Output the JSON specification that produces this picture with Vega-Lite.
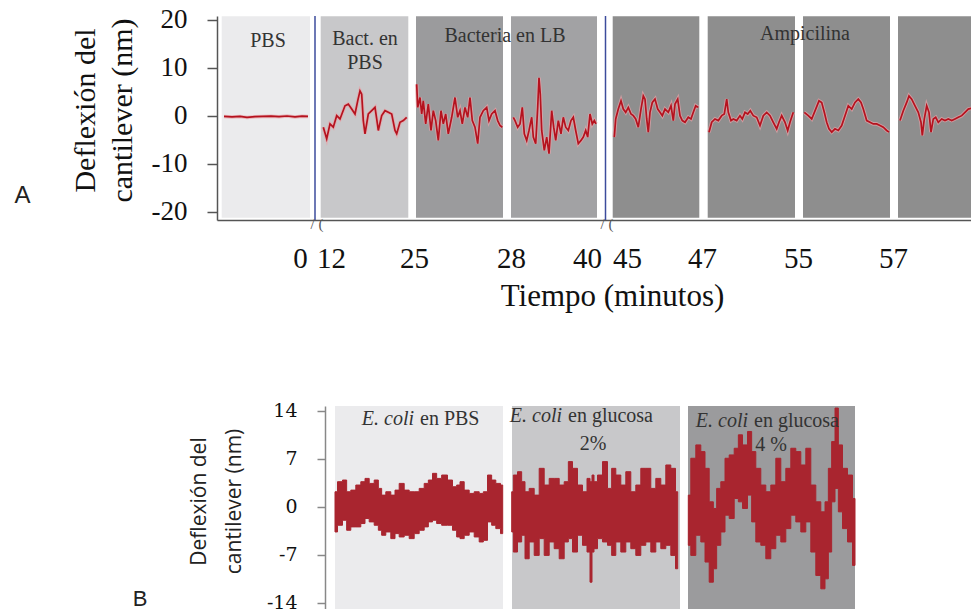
{
  "$schema": "https://vega.github.io/schema/vega-lite/v6.json",
  "padding": {"left": 14, "top": 5, "right": 0, "bottom": 0},
  "background": "white",
  "spacing": 90,
  "config": {"view": {"stroke": null}},
  "datasets": {
    "cajasA": [
      {"inicio": 0.47, "fin": 9.3, "fase": "PBS"},
      {"inicio": 10.37, "fin": 19.13, "fase": "Bact. en PBS"},
      {"inicio": 19.9, "fin": 28.6, "fase": "Bacteria en LB"},
      {"inicio": 29.4, "fin": 38.0, "fase": "Bacteria en LB 2"},
      {"inicio": 39.57, "fin": 48.23, "fase": "Ampicilina"},
      {"inicio": 49.07, "fin": 57.8, "fase": "Ampicilina"},
      {"inicio": 58.6, "fin": 67.3, "fase": "Ampicilina"},
      {"inicio": 68.1, "fin": 77, "fase": "Ampicilina"}
    ],
    "cortes": [{"inicio": 9.8}, {"inicio": 38.85}],
    "quiebres": [{"inicio": 10.0, "texto": "/ ("}, {"inicio": 39.0, "texto": "/ ("}],
    "trazaA": [
      {"seg": "s0", "inicio": 0.7, "v": -0.1}, {"seg": "s0", "inicio": 1.5, "v": -0.2}, {"seg": "s0", "inicio": 2.3, "v": -0.1}, {"seg": "s0", "inicio": 3.0, "v": -0.3}, {"seg": "s0", "inicio": 3.8, "v": -0.15}, {"seg": "s0", "inicio": 4.6, "v": -0.1}, {"seg": "s0", "inicio": 5.4, "v": -0.05}, {"seg": "s0", "inicio": 6.2, "v": -0.15}, {"seg": "s0", "inicio": 7.0, "v": 0}, {"seg": "s0", "inicio": 7.8, "v": -0.2}, {"seg": "s0", "inicio": 8.5, "v": -0.05}, {"seg": "s0", "inicio": 9.1, "v": -0.1},
      {"seg": "s1", "inicio": 10.63, "v": -2.34}, {"seg": "s1", "inicio": 10.97, "v": -4.74}, {"seg": "s1", "inicio": 11.3, "v": -1.65}, {"seg": "s1", "inicio": 11.63, "v": -2.34}, {"seg": "s1", "inicio": 11.97, "v": 0.07}, {"seg": "s1", "inicio": 12.3, "v": -0.62}, {"seg": "s1", "inicio": 12.8, "v": 2.13}, {"seg": "s1", "inicio": 13.13, "v": 2.47}, {"seg": "s1", "inicio": 13.47, "v": 1.44}, {"seg": "s1", "inicio": 13.8, "v": 0.41}, {"seg": "s1", "inicio": 14.07, "v": 3.16}, {"seg": "s1", "inicio": 14.3, "v": 5.22}, {"seg": "s1", "inicio": 14.47, "v": 4.54}, {"seg": "s1", "inicio": 14.63, "v": -0.96}, {"seg": "s1", "inicio": 14.8, "v": -3.71}, {"seg": "s1", "inicio": 15.13, "v": 0.41}, {"seg": "s1", "inicio": 15.47, "v": 1.1}, {"seg": "s1", "inicio": 15.8, "v": 1.79}, {"seg": "s1", "inicio": 15.97, "v": -0.62}, {"seg": "s1", "inicio": 16.13, "v": -3.02}, {"seg": "s1", "inicio": 16.47, "v": 0.07}, {"seg": "s1", "inicio": 16.8, "v": 1.1}, {"seg": "s1", "inicio": 17.13, "v": 0.76}, {"seg": "s1", "inicio": 17.47, "v": 0.41}, {"seg": "s1", "inicio": 17.8, "v": -3.02}, {"seg": "s1", "inicio": 17.97, "v": -3.71}, {"seg": "s1", "inicio": 18.3, "v": -1.31}, {"seg": "s1", "inicio": 18.63, "v": -0.96}, {"seg": "s1", "inicio": 18.97, "v": -0.27},
      {"seg": "s2", "inicio": 19.97, "v": 6.6}, {"seg": "s2", "inicio": 20.07, "v": 1.79}, {"seg": "s2", "inicio": 20.3, "v": 3.85}, {"seg": "s2", "inicio": 20.47, "v": 0.41}, {"seg": "s2", "inicio": 20.63, "v": 3.16}, {"seg": "s2", "inicio": 20.87, "v": -1.65}, {"seg": "s2", "inicio": 21.13, "v": 2.47}, {"seg": "s2", "inicio": 21.4, "v": -3.02}, {"seg": "s2", "inicio": 21.63, "v": 1.1}, {"seg": "s2", "inicio": 21.87, "v": -0.96}, {"seg": "s2", "inicio": 22.13, "v": -5.09}, {"seg": "s2", "inicio": 22.4, "v": 1.1}, {"seg": "s2", "inicio": 22.63, "v": -1.65}, {"seg": "s2", "inicio": 22.87, "v": 0.41}, {"seg": "s2", "inicio": 23.13, "v": -3.71}, {"seg": "s2", "inicio": 23.47, "v": -0.27}, {"seg": "s2", "inicio": 23.8, "v": 3.85}, {"seg": "s2", "inicio": 24.07, "v": -0.27}, {"seg": "s2", "inicio": 24.3, "v": 1.1}, {"seg": "s2", "inicio": 24.53, "v": -1.65}, {"seg": "s2", "inicio": 24.8, "v": 1.79}, {"seg": "s2", "inicio": 25.07, "v": -0.27}, {"seg": "s2", "inicio": 25.3, "v": 3.85}, {"seg": "s2", "inicio": 25.53, "v": -0.96}, {"seg": "s2", "inicio": 25.8, "v": -2.34}, {"seg": "s2", "inicio": 26.07, "v": -5.77}, {"seg": "s2", "inicio": 26.3, "v": -0.27}, {"seg": "s2", "inicio": 26.63, "v": 1.1}, {"seg": "s2", "inicio": 26.97, "v": 1.79}, {"seg": "s2", "inicio": 27.2, "v": -0.96}, {"seg": "s2", "inicio": 27.47, "v": 0.41}, {"seg": "s2", "inicio": 27.8, "v": 1.1}, {"seg": "s2", "inicio": 28.07, "v": -0.96}, {"seg": "s2", "inicio": 28.3, "v": -1.99}, {"seg": "s2", "inicio": 28.53, "v": -2.34},
      {"seg": "s3", "inicio": 29.63, "v": -0.27}, {"seg": "s3", "inicio": 29.8, "v": -0.96}, {"seg": "s3", "inicio": 30.07, "v": -2.34}, {"seg": "s3", "inicio": 30.3, "v": -1.65}, {"seg": "s3", "inicio": 30.53, "v": 1.79}, {"seg": "s3", "inicio": 30.73, "v": -3.71}, {"seg": "s3", "inicio": 30.97, "v": -5.09}, {"seg": "s3", "inicio": 31.2, "v": -3.02}, {"seg": "s3", "inicio": 31.47, "v": -0.27}, {"seg": "s3", "inicio": 31.63, "v": -4.4}, {"seg": "s3", "inicio": 31.87, "v": -5.77}, {"seg": "s3", "inicio": 32.07, "v": 1.79}, {"seg": "s3", "inicio": 32.2, "v": 7.97}, {"seg": "s3", "inicio": 32.33, "v": 4.54}, {"seg": "s3", "inicio": 32.47, "v": -3.02}, {"seg": "s3", "inicio": 32.73, "v": -7.15}, {"seg": "s3", "inicio": 32.97, "v": -4.4}, {"seg": "s3", "inicio": 33.2, "v": -7.84}, {"seg": "s3", "inicio": 33.47, "v": 1.1}, {"seg": "s3", "inicio": 33.67, "v": -2.34}, {"seg": "s3", "inicio": 33.87, "v": -5.09}, {"seg": "s3", "inicio": 34.13, "v": -0.96}, {"seg": "s3", "inicio": 34.4, "v": -3.71}, {"seg": "s3", "inicio": 34.63, "v": -0.27}, {"seg": "s3", "inicio": 34.87, "v": -2.34}, {"seg": "s3", "inicio": 35.13, "v": -3.02}, {"seg": "s3", "inicio": 35.4, "v": -0.96}, {"seg": "s3", "inicio": 35.63, "v": -0.27}, {"seg": "s3", "inicio": 35.87, "v": -3.02}, {"seg": "s3", "inicio": 36.13, "v": -5.77}, {"seg": "s3", "inicio": 36.4, "v": -5.09}, {"seg": "s3", "inicio": 36.63, "v": -4.4}, {"seg": "s3", "inicio": 36.87, "v": -3.02}, {"seg": "s3", "inicio": 37.07, "v": -4.4}, {"seg": "s3", "inicio": 37.3, "v": 0.41}, {"seg": "s3", "inicio": 37.53, "v": -1.65}, {"seg": "s3", "inicio": 37.73, "v": -0.96}, {"seg": "s3", "inicio": 37.9, "v": -1.65},
      {"seg": "s4", "inicio": 39.73, "v": -4.4}, {"seg": "s4", "inicio": 39.87, "v": -0.62}, {"seg": "s4", "inicio": 40.13, "v": 1.44}, {"seg": "s4", "inicio": 40.4, "v": 3.16}, {"seg": "s4", "inicio": 40.63, "v": 1.44}, {"seg": "s4", "inicio": 40.87, "v": 0.76}, {"seg": "s4", "inicio": 41.13, "v": 1.79}, {"seg": "s4", "inicio": 41.4, "v": 0.41}, {"seg": "s4", "inicio": 41.63, "v": 0.07}, {"seg": "s4", "inicio": 41.87, "v": -0.62}, {"seg": "s4", "inicio": 42.13, "v": -2.34}, {"seg": "s4", "inicio": 42.4, "v": 1.44}, {"seg": "s4", "inicio": 42.63, "v": 4.19}, {"seg": "s4", "inicio": 42.8, "v": 3.51}, {"seg": "s4", "inicio": 42.97, "v": -0.62}, {"seg": "s4", "inicio": 43.13, "v": -3.37}, {"seg": "s4", "inicio": 43.3, "v": 0.76}, {"seg": "s4", "inicio": 43.53, "v": 2.82}, {"seg": "s4", "inicio": 43.8, "v": 3.51}, {"seg": "s4", "inicio": 44.07, "v": 1.44}, {"seg": "s4", "inicio": 44.3, "v": 0.76}, {"seg": "s4", "inicio": 44.53, "v": 0.07}, {"seg": "s4", "inicio": 44.8, "v": 1.44}, {"seg": "s4", "inicio": 45.13, "v": 0.76}, {"seg": "s4", "inicio": 45.4, "v": 2.13}, {"seg": "s4", "inicio": 45.63, "v": -0.96}, {"seg": "s4", "inicio": 45.8, "v": 2.47}, {"seg": "s4", "inicio": 46.07, "v": 3.51}, {"seg": "s4", "inicio": 46.3, "v": 0.07}, {"seg": "s4", "inicio": 46.53, "v": -0.96}, {"seg": "s4", "inicio": 46.8, "v": -1.31}, {"seg": "s4", "inicio": 47.13, "v": -0.27}, {"seg": "s4", "inicio": 47.4, "v": -0.62}, {"seg": "s4", "inicio": 47.63, "v": 0.76}, {"seg": "s4", "inicio": 47.87, "v": 2.13}, {"seg": "s4", "inicio": 48.13, "v": 1.79},
      {"seg": "s5", "inicio": 49.2, "v": -3.37}, {"seg": "s5", "inicio": 49.47, "v": -1.31}, {"seg": "s5", "inicio": 49.8, "v": -0.62}, {"seg": "s5", "inicio": 50.13, "v": -0.96}, {"seg": "s5", "inicio": 50.47, "v": 0.07}, {"seg": "s5", "inicio": 50.73, "v": 0.41}, {"seg": "s5", "inicio": 50.97, "v": 3.51}, {"seg": "s5", "inicio": 51.13, "v": 0.76}, {"seg": "s5", "inicio": 51.4, "v": -0.96}, {"seg": "s5", "inicio": 51.63, "v": -0.62}, {"seg": "s5", "inicio": 51.97, "v": -0.96}, {"seg": "s5", "inicio": 52.3, "v": 0.07}, {"seg": "s5", "inicio": 52.53, "v": -0.62}, {"seg": "s5", "inicio": 52.8, "v": 0.76}, {"seg": "s5", "inicio": 53.07, "v": 0.41}, {"seg": "s5", "inicio": 53.33, "v": 1.1}, {"seg": "s5", "inicio": 53.63, "v": 0.07}, {"seg": "s5", "inicio": 53.97, "v": -0.27}, {"seg": "s5", "inicio": 54.3, "v": -1.99}, {"seg": "s5", "inicio": 54.63, "v": 0.07}, {"seg": "s5", "inicio": 54.97, "v": 0.76}, {"seg": "s5", "inicio": 55.3, "v": 0.07}, {"seg": "s5", "inicio": 55.63, "v": -1.31}, {"seg": "s5", "inicio": 55.97, "v": -2.68}, {"seg": "s5", "inicio": 56.2, "v": -1.31}, {"seg": "s5", "inicio": 56.47, "v": 0.07}, {"seg": "s5", "inicio": 56.8, "v": -1.31}, {"seg": "s5", "inicio": 57.07, "v": -3.02}, {"seg": "s5", "inicio": 57.3, "v": -1.31}, {"seg": "s5", "inicio": 57.63, "v": 0.76},
      {"seg": "s6", "inicio": 58.73, "v": 0.76}, {"seg": "s6", "inicio": 59.13, "v": 0.07}, {"seg": "s6", "inicio": 59.47, "v": -0.62}, {"seg": "s6", "inicio": 59.87, "v": 1.44}, {"seg": "s6", "inicio": 60.2, "v": 3.16}, {"seg": "s6", "inicio": 60.47, "v": 2.82}, {"seg": "s6", "inicio": 60.73, "v": 0.76}, {"seg": "s6", "inicio": 60.97, "v": -1.31}, {"seg": "s6", "inicio": 61.2, "v": -2.68}, {"seg": "s6", "inicio": 61.47, "v": -3.37}, {"seg": "s6", "inicio": 61.8, "v": -2.68}, {"seg": "s6", "inicio": 62.13, "v": -3.02}, {"seg": "s6", "inicio": 62.47, "v": -1.99}, {"seg": "s6", "inicio": 62.8, "v": 0.07}, {"seg": "s6", "inicio": 63.13, "v": 2.13}, {"seg": "s6", "inicio": 63.47, "v": 1.44}, {"seg": "s6", "inicio": 63.8, "v": 2.82}, {"seg": "s6", "inicio": 64.13, "v": 3.51}, {"seg": "s6", "inicio": 64.4, "v": 2.82}, {"seg": "s6", "inicio": 64.63, "v": 1.44}, {"seg": "s6", "inicio": 64.97, "v": -0.96}, {"seg": "s6", "inicio": 65.3, "v": -1.31}, {"seg": "s6", "inicio": 65.63, "v": -1.65}, {"seg": "s6", "inicio": 65.97, "v": -1.65}, {"seg": "s6", "inicio": 66.3, "v": -1.99}, {"seg": "s6", "inicio": 66.63, "v": -2.34}, {"seg": "s6", "inicio": 66.97, "v": -3.02}, {"seg": "s6", "inicio": 67.2, "v": -3.37},
      {"seg": "s7", "inicio": 68.3, "v": -0.96}, {"seg": "s7", "inicio": 68.63, "v": 1.1}, {"seg": "s7", "inicio": 68.97, "v": 2.82}, {"seg": "s7", "inicio": 69.2, "v": 4.19}, {"seg": "s7", "inicio": 69.47, "v": 3.51}, {"seg": "s7", "inicio": 69.8, "v": 2.13}, {"seg": "s7", "inicio": 70.13, "v": 0.76}, {"seg": "s7", "inicio": 70.4, "v": -1.31}, {"seg": "s7", "inicio": 70.53, "v": -4.05}, {"seg": "s7", "inicio": 70.73, "v": -0.62}, {"seg": "s7", "inicio": 70.97, "v": 2.13}, {"seg": "s7", "inicio": 71.2, "v": 0.76}, {"seg": "s7", "inicio": 71.4, "v": -3.37}, {"seg": "s7", "inicio": 71.63, "v": -0.62}, {"seg": "s7", "inicio": 71.87, "v": -0.27}, {"seg": "s7", "inicio": 72.13, "v": -1.31}, {"seg": "s7", "inicio": 72.47, "v": -0.62}, {"seg": "s7", "inicio": 72.8, "v": -0.96}, {"seg": "s7", "inicio": 73.13, "v": -0.62}, {"seg": "s7", "inicio": 73.47, "v": -0.96}, {"seg": "s7", "inicio": 73.8, "v": -0.62}, {"seg": "s7", "inicio": 74.13, "v": -0.27}, {"seg": "s7", "inicio": 74.47, "v": 0.07}, {"seg": "s7", "inicio": 74.8, "v": 0.76}, {"seg": "s7", "inicio": 75.13, "v": 1.44}, {"seg": "s7", "inicio": 75.4, "v": 1.58}, {"seg": "s7", "inicio": 76.0, "v": 1.8}
    ],
    "textosA": [
      {"inicio": 5.1, "v": 15.6, "texto": "PBS"},
      {"inicio": 14.8, "v": 16.0, "texto": "Bact. en"},
      {"inicio": 14.8, "v": 11.0, "texto": "PBS"},
      {"inicio": 28.8, "v": 16.6, "texto": "Bacteria en LB"},
      {"inicio": 58.8, "v": 17.0, "texto": "Ampicilina"}
    ],
    "letraA": [{"inicio": -19.45, "v": -16.6, "texto": "A"}],
    "cajasB": [
      {"inicio": 11.8, "fin": 28.6, "fase": "E. coli en PBS"},
      {"inicio": 29.5, "fin": 46.3, "fase": "E. coli en glucosa 2%"},
      {"inicio": 47.1, "fin": 63.8, "fase": "E. coli en glucosa 4 %"}
    ],
    "bandaB": [
      {"seg": "b1", "inicio": 11.8, "sup": 2.2, "inf": -3.67}, {"seg": "b1", "inicio": 12.3, "sup": 3.67, "inf": -2.69}, {"seg": "b1", "inicio": 12.8, "sup": 3.91, "inf": -1.96}, {"seg": "b1", "inicio": 13.13, "sup": 2.2, "inf": -3.42}, {"seg": "b1", "inicio": 13.63, "sup": 2.44, "inf": -2.93}, {"seg": "b1", "inicio": 14.13, "sup": 3.18, "inf": -2.93}, {"seg": "b1", "inicio": 14.63, "sup": 3.67, "inf": -2.44}, {"seg": "b1", "inicio": 14.97, "sup": 4.15, "inf": -1.71}, {"seg": "b1", "inicio": 15.47, "sup": 3.42, "inf": -2.2}, {"seg": "b1", "inicio": 15.97, "sup": 3.91, "inf": -2.69}, {"seg": "b1", "inicio": 16.3, "sup": 2.69, "inf": -3.42}, {"seg": "b1", "inicio": 16.63, "sup": 1.71, "inf": -4.15}, {"seg": "b1", "inicio": 17.13, "sup": 2.2, "inf": -3.67}, {"seg": "b1", "inicio": 17.63, "sup": 1.71, "inf": -4.64}, {"seg": "b1", "inicio": 17.97, "sup": 2.44, "inf": -3.91}, {"seg": "b1", "inicio": 18.47, "sup": 3.42, "inf": -4.4}, {"seg": "b1", "inicio": 18.97, "sup": 2.44, "inf": -4.15}, {"seg": "b1", "inicio": 19.47, "sup": 2.2, "inf": -4.64}, {"seg": "b1", "inicio": 19.97, "sup": 2.2, "inf": -3.91}, {"seg": "b1", "inicio": 20.47, "sup": 2.69, "inf": -3.42}, {"seg": "b1", "inicio": 20.97, "sup": 3.42, "inf": -2.93}, {"seg": "b1", "inicio": 21.3, "sup": 3.91, "inf": -2.2}, {"seg": "b1", "inicio": 21.8, "sup": 4.89, "inf": -1.96}, {"seg": "b1", "inicio": 22.13, "sup": 4.15, "inf": -2.44}, {"seg": "b1", "inicio": 22.8, "sup": 4.64, "inf": -2.69}, {"seg": "b1", "inicio": 23.3, "sup": 3.91, "inf": -2.69}, {"seg": "b1", "inicio": 23.8, "sup": 2.93, "inf": -3.42}, {"seg": "b1", "inicio": 24.13, "sup": 3.18, "inf": -4.4}, {"seg": "b1", "inicio": 24.47, "sup": 3.67, "inf": -4.64}, {"seg": "b1", "inicio": 24.97, "sup": 2.44, "inf": -4.15}, {"seg": "b1", "inicio": 25.47, "sup": 1.96, "inf": -3.67}, {"seg": "b1", "inicio": 25.97, "sup": 2.2, "inf": -4.4}, {"seg": "b1", "inicio": 26.47, "sup": 1.96, "inf": -5.13}, {"seg": "b1", "inicio": 26.8, "sup": 2.2, "inf": -4.89}, {"seg": "b1", "inicio": 27.3, "sup": 4.64, "inf": -2.2}, {"seg": "b1", "inicio": 27.63, "sup": 3.91, "inf": -2.69}, {"seg": "b1", "inicio": 28.13, "sup": 3.42, "inf": -3.18}, {"seg": "b1", "inicio": 28.57, "sup": 3.18, "inf": -3.91},
      {"seg": "b2", "inicio": 29.47, "sup": 2.2, "inf": -3.67}, {"seg": "b2", "inicio": 29.8, "sup": 4.64, "inf": -6.6}, {"seg": "b2", "inicio": 30.3, "sup": 5.13, "inf": -5.13}, {"seg": "b2", "inicio": 30.63, "sup": 3.67, "inf": -4.15}, {"seg": "b2", "inicio": 30.97, "sup": 2.2, "inf": -7.58}, {"seg": "b2", "inicio": 31.47, "sup": 2.69, "inf": -5.13}, {"seg": "b2", "inicio": 31.97, "sup": 1.71, "inf": -7.09}, {"seg": "b2", "inicio": 32.47, "sup": 5.62, "inf": -4.64}, {"seg": "b2", "inicio": 32.97, "sup": 3.18, "inf": -7.09}, {"seg": "b2", "inicio": 33.47, "sup": 4.15, "inf": -5.13}, {"seg": "b2", "inicio": 33.97, "sup": 4.15, "inf": -6.11}, {"seg": "b2", "inicio": 34.47, "sup": 3.18, "inf": -7.58}, {"seg": "b2", "inicio": 34.97, "sup": 3.67, "inf": -5.13}, {"seg": "b2", "inicio": 35.3, "sup": 6.6, "inf": -4.64}, {"seg": "b2", "inicio": 35.8, "sup": 5.62, "inf": -6.6}, {"seg": "b2", "inicio": 36.3, "sup": 3.18, "inf": -4.15}, {"seg": "b2", "inicio": 36.8, "sup": 2.2, "inf": -5.62}, {"seg": "b2", "inicio": 37.2, "sup": 4.15, "inf": -6.6}, {"seg": "b2", "inicio": 37.4, "sup": 3.67, "inf": -11.0}, {"seg": "b2", "inicio": 37.6, "sup": 4.64, "inf": -6.6}, {"seg": "b2", "inicio": 37.8, "sup": 3.67, "inf": -6.11}, {"seg": "b2", "inicio": 38.3, "sup": 4.64, "inf": -4.64}, {"seg": "b2", "inicio": 38.8, "sup": 6.6, "inf": -5.13}, {"seg": "b2", "inicio": 39.3, "sup": 2.69, "inf": -5.62}, {"seg": "b2", "inicio": 39.63, "sup": 5.62, "inf": -7.09}, {"seg": "b2", "inicio": 40.13, "sup": 4.64, "inf": -5.13}, {"seg": "b2", "inicio": 40.63, "sup": 3.18, "inf": -6.6}, {"seg": "b2", "inicio": 41.13, "sup": 5.13, "inf": -5.13}, {"seg": "b2", "inicio": 41.63, "sup": 2.2, "inf": -6.11}, {"seg": "b2", "inicio": 42.13, "sup": 3.18, "inf": -7.09}, {"seg": "b2", "inicio": 42.63, "sup": 5.62, "inf": -5.62}, {"seg": "b2", "inicio": 43.13, "sup": 5.62, "inf": -5.13}, {"seg": "b2", "inicio": 43.63, "sup": 2.69, "inf": -6.6}, {"seg": "b2", "inicio": 44.13, "sup": 4.15, "inf": -5.13}, {"seg": "b2", "inicio": 44.63, "sup": 3.18, "inf": -6.11}, {"seg": "b2", "inicio": 45.13, "sup": 6.11, "inf": -5.62}, {"seg": "b2", "inicio": 45.63, "sup": 5.62, "inf": -7.09}, {"seg": "b2", "inicio": 46.07, "sup": 2.2, "inf": -9.04},
      {"seg": "b3", "inicio": 47.13, "sup": 1.71, "inf": -5.62}, {"seg": "b3", "inicio": 47.63, "sup": 7.09, "inf": -7.09}, {"seg": "b3", "inicio": 48.13, "sup": 9.04, "inf": -4.15}, {"seg": "b3", "inicio": 48.63, "sup": 8.06, "inf": -5.13}, {"seg": "b3", "inicio": 48.97, "sup": 5.62, "inf": -8.06}, {"seg": "b3", "inicio": 49.47, "sup": 0.73, "inf": -11.0}, {"seg": "b3", "inicio": 49.8, "sup": -0.24, "inf": -9.04}, {"seg": "b3", "inicio": 50.13, "sup": 2.69, "inf": -5.62}, {"seg": "b3", "inicio": 50.63, "sup": 3.67, "inf": -3.67}, {"seg": "b3", "inicio": 50.97, "sup": 7.09, "inf": -1.22}, {"seg": "b3", "inicio": 51.47, "sup": 7.58, "inf": -1.71}, {"seg": "b3", "inicio": 51.97, "sup": 8.55, "inf": 1.22}, {"seg": "b3", "inicio": 52.3, "sup": 10.51, "inf": 0.73}, {"seg": "b3", "inicio": 52.8, "sup": 9.04, "inf": -0.24}, {"seg": "b3", "inicio": 53.3, "sup": 11.0, "inf": 1.71}, {"seg": "b3", "inicio": 53.63, "sup": 8.06, "inf": -2.2}, {"seg": "b3", "inicio": 54.13, "sup": 5.62, "inf": -5.13}, {"seg": "b3", "inicio": 54.63, "sup": 3.18, "inf": -5.62}, {"seg": "b3", "inicio": 55.13, "sup": 2.2, "inf": -7.58}, {"seg": "b3", "inicio": 55.63, "sup": 3.18, "inf": -6.11}, {"seg": "b3", "inicio": 56.13, "sup": 7.09, "inf": -4.15}, {"seg": "b3", "inicio": 56.63, "sup": 3.67, "inf": -5.13}, {"seg": "b3", "inicio": 57.13, "sup": 5.62, "inf": -3.18}, {"seg": "b3", "inicio": 57.63, "sup": 8.55, "inf": -1.22}, {"seg": "b3", "inicio": 58.13, "sup": 8.06, "inf": -2.2}, {"seg": "b3", "inicio": 58.63, "sup": 6.11, "inf": -3.67}, {"seg": "b3", "inicio": 59.13, "sup": 8.55, "inf": -2.2}, {"seg": "b3", "inicio": 59.63, "sup": 3.18, "inf": -6.6}, {"seg": "b3", "inicio": 60.13, "sup": 0.73, "inf": -10.02}, {"seg": "b3", "inicio": 60.63, "sup": -0.73, "inf": -11.97}, {"seg": "b3", "inicio": 60.97, "sup": 0.73, "inf": -10.51}, {"seg": "b3", "inicio": 61.3, "sup": 5.62, "inf": -6.6}, {"seg": "b3", "inicio": 61.63, "sup": 9.53, "inf": 0.73}, {"seg": "b3", "inicio": 61.97, "sup": 14.42, "inf": 2.69}, {"seg": "b3", "inicio": 62.3, "sup": 9.04, "inf": -0.73}, {"seg": "b3", "inicio": 62.8, "sup": 5.62, "inf": -3.18}, {"seg": "b3", "inicio": 63.3, "sup": 4.64, "inf": -5.13}, {"seg": "b3", "inicio": 63.8, "sup": 1.22, "inf": -8.55}
    ],
    "cursivaB": [
      {"inicio": 20.0, "v": 12.76, "texto": "E. coli"},
      {"inicio": 34.8, "v": 13.2, "texto": "E. coli"},
      {"inicio": 53.4, "v": 12.46, "texto": "E. coli"}
    ],
    "normalB": [
      {"inicio": 20.0, "v": 12.76, "texto": "en PBS"},
      {"inicio": 34.8, "v": 13.2, "texto": "en glucosa"},
      {"inicio": 53.4, "v": 12.46, "texto": "en glucosa"}
    ],
    "centroB": [
      {"inicio": 37.6, "v": 9.24, "texto": "2%"},
      {"inicio": 55.4, "v": 9.09, "texto": "4 %"}
    ],
    "letraB": [{"inicio": -7.7, "v": -13.5, "texto": "B"}]
  },
  "vconcat": [
    {
      "width": 760,
      "height": 204,
      "layer": [
        {
          "data": {"name": "cajasA"},
          "mark": {"type": "rect"},
          "encoding": {
            "x": {"field": "inicio", "type": "quantitative", "scale": {"domain": [0, 76], "nice": false, "zero": false},
              "axis": {"values": [8.3, 11.4, 19.7, 29.4, 37, 41, 48.5, 58.1, 67.6],
                "labelExpr": "['0','12','25','28','40','45','47','55','57'][indexof([8.3,11.4,19.7,29.4,37,41,48.5,58.1,67.6], datum.value)]",
                "ticks": false, "tickSize": 0, "grid": false, "domainColor": "#555", "domainWidth": 1.5,
                "labelFont": "Liberation Serif", "labelFontSize": 29, "labelColor": "#111", "labelPadding": 24,
                "labelFlush": false, "labelOverlap": false, "labelBound": false,
                "title": "Tiempo (minutos)", "titleFont": "Liberation Serif", "titleFontSize": 31, "titleFontWeight": "normal", "titleColor": "#111", "titlePadding": 8, "titleX": 395}},
            "x2": {"field": "fin"},
            "y": {"datum": 20.8, "type": "quantitative", "scale": {"domain": [-21.67, 20.83], "nice": false, "zero": false}},
            "y2": {"datum": -21.2},
            "color": {"field": "fase", "type": "nominal", "legend": null,
              "scale": {"domain": ["PBS", "Bact. en PBS", "Bacteria en LB", "Bacteria en LB 2", "Ampicilina"], "range": ["#ebebed", "#c8c8ca", "#9b9b9d", "#a2a2a4", "#8e8e8e"]}}
          }
        },
        {
          "data": {"name": "cortes"},
          "mark": {"type": "rule", "color": "#3d4c9c", "strokeWidth": 1.5},
          "encoding": {
            "x": {"field": "inicio", "type": "quantitative", "scale": {"domain": [0, 76], "nice": false, "zero": false}},
            "y": {"datum": 20.83, "type": "quantitative", "scale": {"domain": [-21.67, 20.83], "nice": false, "zero": false}},
            "y2": {"datum": -21.67}
          }
        },
        {
          "data": {"name": "trazaA"},
          "mark": {"type": "line", "color": "#e8a3a8", "strokeWidth": 3.6, "opacity": 0.7},
          "encoding": {
            "x": {"field": "inicio", "type": "quantitative", "scale": {"domain": [0, 76], "nice": false, "zero": false}},
            "y": {"field": "v", "type": "quantitative", "scale": {"domain": [-21.67, 20.83], "nice": false, "zero": false},
              "axis": {"values": [-20, -10, 0, 10, 20], "labelExpr": "datum.value < 0 ? '-' + abs(datum.value) : '' + datum.value",
                "tickSize": 10, "tickColor": "#555", "tickWidth": 1.5, "domainColor": "#555", "domainWidth": 1.5, "grid": false,
                "labelFont": "Liberation Serif", "labelFontSize": 27, "labelColor": "#111", "labelPadding": 20,
                "title": ["Deflexión del", "cantilever (nm)"], "titleFont": "Liberation Serif", "titleFontSize": 30, "titleFontWeight": "normal", "titleColor": "#111", "titleLineHeight": 37, "titlePadding": 14, "titleY": 94}},
            "detail": {"field": "seg"}
          }
        },
        {
          "data": {"name": "trazaA"},
          "mark": {"type": "line", "color": "#b5121e", "strokeWidth": 1.7},
          "encoding": {
            "x": {"field": "inicio", "type": "quantitative", "scale": {"domain": [0, 76], "nice": false, "zero": false}},
            "y": {"field": "v", "type": "quantitative", "scale": {"domain": [-21.67, 20.83], "nice": false, "zero": false}},
            "detail": {"field": "seg"}
          }
        },
        {
          "data": {"name": "textosA"},
          "mark": {"type": "text", "font": "Liberation Serif", "fontSize": 20, "color": "#333", "align": "center", "baseline": "middle"},
          "encoding": {
            "x": {"field": "inicio", "type": "quantitative", "scale": {"domain": [0, 76], "nice": false, "zero": false}},
            "y": {"field": "v", "type": "quantitative", "scale": {"domain": [-21.67, 20.83], "nice": false, "zero": false}},
            "text": {"field": "texto"}
          }
        },
        {
          "data": {"name": "quiebres"},
          "mark": {"type": "text", "font": "Liberation Serif", "fontSize": 15, "color": "#555", "align": "center", "baseline": "middle"},
          "encoding": {
            "x": {"field": "inicio", "type": "quantitative", "scale": {"domain": [0, 76], "nice": false, "zero": false}},
            "y": {"datum": -22.6, "type": "quantitative", "scale": {"domain": [-21.67, 20.83], "nice": false, "zero": false}},
            "text": {"field": "texto"}
          }
        },
        {
          "data": {"name": "letraA"},
          "mark": {"type": "text", "font": "Liberation Sans", "fontSize": 24, "color": "#222", "align": "center", "baseline": "middle"},
          "encoding": {
            "x": {"field": "inicio", "type": "quantitative", "scale": {"domain": [0, 76], "nice": false, "zero": false}},
            "y": {"field": "v", "type": "quantitative", "scale": {"domain": [-21.67, 20.83], "nice": false, "zero": false}},
            "text": {"field": "texto"}
          }
        }
      ]
    },
    {
      "width": 760,
      "height": 207,
      "layer": [
        {
          "data": {"name": "cajasB"},
          "mark": {"type": "rect"},
          "encoding": {
            "x": {"field": "inicio", "type": "quantitative", "scale": {"domain": [0, 76], "nice": false, "zero": false}, "axis": {"labels": false, "ticks": false, "domain": false, "title": null, "grid": false}},
            "x2": {"field": "fin"},
            "y": {"datum": 14.72, "type": "quantitative", "scale": {"domain": [-15.5, 14.72], "nice": false, "zero": false}},
            "y2": {"datum": -15.5},
            "color": {"field": "fase", "type": "nominal", "legend": null,
              "scale": {"domain": ["E. coli en PBS", "E. coli en glucosa 2%", "E. coli en glucosa 4 %"], "range": ["#e9e9e9", "#d0d3d5", "#a8aaac"]}}
          }
        },
        {
          "data": {"name": "bandaB"},
          "mark": {"type": "area", "color": "#a9252f", "stroke": "#a9252f", "strokeWidth": 1, "interpolate": "step"},
          "encoding": {
            "x": {"field": "inicio", "type": "quantitative", "scale": {"domain": [0, 76], "nice": false, "zero": false}},
            "y": {"field": "sup", "type": "quantitative", "scale": {"domain": [-15.5, 14.72], "nice": false, "zero": false},
              "axis": {"values": [-14, -7, 0, 7, 14], "labelExpr": "datum.value < 0 ? '-' + abs(datum.value) : '' + datum.value",
                "offset": -108, "tickSize": 8, "tickColor": "#888", "tickWidth": 1.5, "domainColor": "#888", "domainWidth": 1.5, "grid": false,
                "labelFont": "DejaVu Serif", "labelFontSize": 19, "labelColor": "#111", "labelPadding": 20,
                "title": ["Deflexión del", "cantilever (nm)"], "titleFont": "Open Sans", "titleFontSize": 21, "titleFontWeight": "normal", "titleColor": "#222", "titleLineHeight": 35, "titlePadding": 22, "titleY": 95}},
            "y2": {"field": "inf"},
            "detail": {"field": "seg"}
          }
        },
        {
          "data": {"name": "cursivaB"},
          "mark": {"type": "text", "font": "Liberation Serif", "fontSize": 20, "fontStyle": "italic", "color": "#333", "align": "right", "baseline": "middle", "dx": -3},
          "encoding": {
            "x": {"field": "inicio", "type": "quantitative", "scale": {"domain": [0, 76], "nice": false, "zero": false}},
            "y": {"field": "v", "type": "quantitative", "scale": {"domain": [-15.5, 14.72], "nice": false, "zero": false}},
            "text": {"field": "texto"}
          }
        },
        {
          "data": {"name": "normalB"},
          "mark": {"type": "text", "font": "Liberation Serif", "fontSize": 20, "color": "#333", "align": "left", "baseline": "middle", "dx": 3},
          "encoding": {
            "x": {"field": "inicio", "type": "quantitative", "scale": {"domain": [0, 76], "nice": false, "zero": false}},
            "y": {"field": "v", "type": "quantitative", "scale": {"domain": [-15.5, 14.72], "nice": false, "zero": false}},
            "text": {"field": "texto"}
          }
        },
        {
          "data": {"name": "centroB"},
          "mark": {"type": "text", "font": "Liberation Serif", "fontSize": 20, "color": "#333", "align": "center", "baseline": "middle"},
          "encoding": {
            "x": {"field": "inicio", "type": "quantitative", "scale": {"domain": [0, 76], "nice": false, "zero": false}},
            "y": {"field": "v", "type": "quantitative", "scale": {"domain": [-15.5, 14.72], "nice": false, "zero": false}},
            "text": {"field": "texto"}
          }
        },
        {
          "data": {"name": "letraB"},
          "mark": {"type": "text", "font": "Liberation Sans", "fontSize": 22, "color": "#222", "align": "center", "baseline": "middle"},
          "encoding": {
            "x": {"field": "inicio", "type": "quantitative", "scale": {"domain": [0, 76], "nice": false, "zero": false}},
            "y": {"field": "v", "type": "quantitative", "scale": {"domain": [-15.5, 14.72], "nice": false, "zero": false}},
            "text": {"field": "texto"}
          }
        }
      ]
    }
  ]
}
